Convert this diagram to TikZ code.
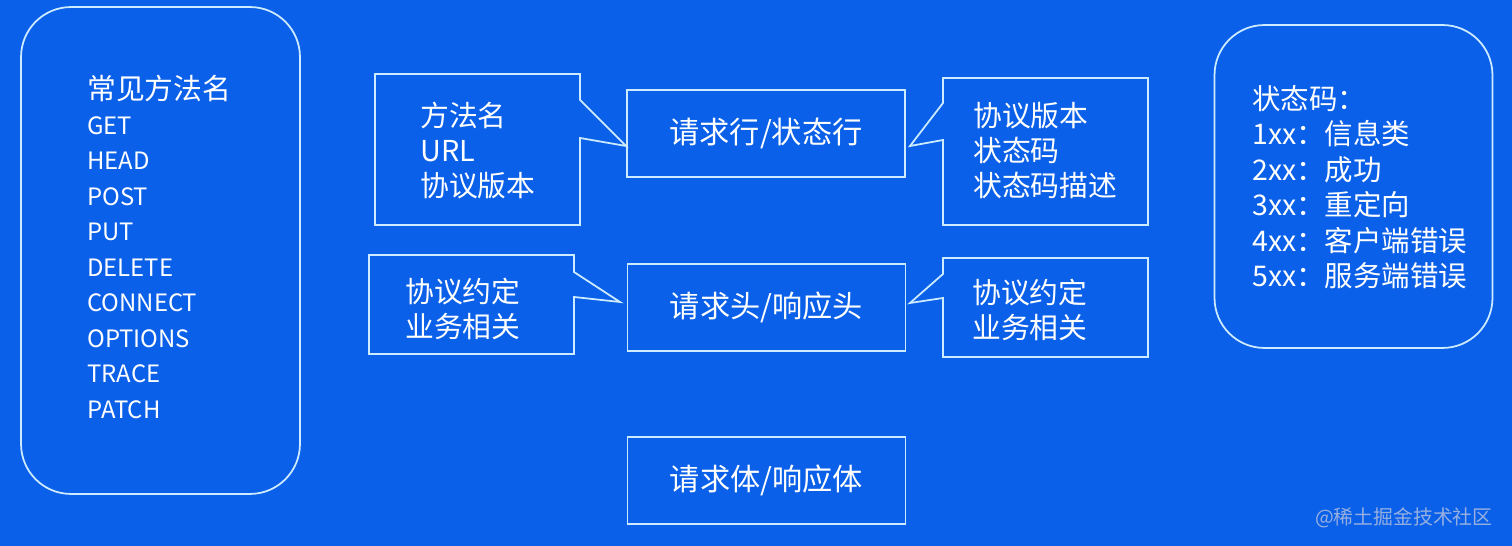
\documentclass[tikz,border=0pt]{standalone}
\usepackage{fontspec}
\setmainfont{Noto Sans CJK SC}
\usepackage{xcolor}
\usetikzlibrary{positioning}

\definecolor{bgblue}{RGB}{10,96,232}
\definecolor{rim}{RGB}{205,235,255}
\definecolor{mark}{RGB}{150,175,225}

\tikzset{
  txt/.style={text=white, inner sep=0pt, font=\fontsize{16.4pt}{19.9pt}\selectfont},
  bigbox/.style={draw=rim, line width=1pt, rounded corners=1cm},
  rowbox/.style={draw=rim, line width=1pt, minimum width=5.56cm, minimum height=1.74cm, txt,
    font=\fontsize{17.2pt}{20pt}\selectfont},
  note/.style={draw=rim, line width=1pt}
}

\begin{document}
\begin{tikzpicture}[x=0.02cm, y=-0.02cm]
    \fill[bgblue] (0, 0) rectangle (1512, 546);
    \useasboundingbox (0, 0) rectangle (1512, 546);

    % left and right lists
    \node[bigbox, minimum width=5.58cm, minimum height=9.74cm] (methods) at (160.5, 250.5) {};
    \node[txt, anchor=west] (methodtitle) at (87, 89) {常见方法名};
    \node[txt, anchor=west, align=left, font=\fontsize{13.6pt}{20.2pt}\selectfont] (methodlist) at (87, 267.5)
        {GET\\HEAD\\POST\\PUT\\DELETE\\CONNECT\\OPTIONS\\TRACE\\PATCH};
    \node[bigbox, minimum width=5.56cm, minimum height=6.46cm] (codes) at (1353.5, 186.5) {};
    \node[txt, anchor=west, align=left, font=\fontsize{16.2pt}{20.2pt}\selectfont] (codelist) at (1252, 187)
        {状态码：\\1xx：信息类\\2xx：成功\\3xx：重定向\\4xx：客户端错误\\5xx：服务端错误};

    % middle column
    \node[rowbox] (line) at (766, 133.5) {请求行/状态行};
    \node[rowbox] (head) at (766.5, 307.5) {请求头/响应头};
    \node[rowbox] (body) at (766.5, 480.5) {请求体/响应体};

    % callouts
    \node[txt, anchor=west, align=left] (reqnote) at (420, 151) {方法名\\URL\\协议版本};
    \draw[note] (375, 74) -- (580, 74) -- (580, 100) -- (line.west |- 0, 146) coordinate (tipa)
        -- (580, 138) -- (580, 225) -- (375, 225) -- cycle;
    \node[txt, anchor=west, align=left] (respnote) at (973, 150.5) {协议版本\\状态码\\状态码描述};
    \draw[note] (943, 78) -- (1148, 78) -- (1148, 225) -- (943, 225) -- (943, 140)
        -- (910, 146) coordinate (tipb) -- (943, 103) -- cycle;
    \node[txt, anchor=west, align=left] (reqhead) at (405, 308.5) {协议约定\\业务相关};
    \draw[note] (369, 255) -- (574, 255) -- (574, 272) -- (620, 302) coordinate (tipc)
        -- (574, 297) -- (574, 354) -- (369, 354) -- cycle;
    \node[txt, anchor=west, align=left] (resphead) at (972, 309.5) {协议约定\\业务相关};
    \draw[note] (943, 258) -- (1148, 258) -- (1148, 357) -- (943, 357) -- (943, 298)
        -- (910, 303) coordinate (tipd) -- (943, 274) -- cycle;

    \node[text=mark, anchor=east, inner sep=0pt, font=\fontsize{11.3pt}{13pt}\selectfont] (stamp) at (1493, 518) {@稀土掘金技术社区};
\end{tikzpicture}
\end{document}
